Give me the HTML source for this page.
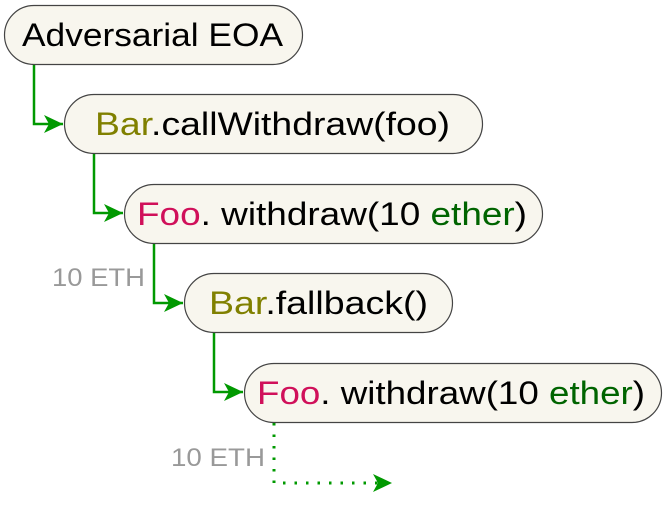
<!DOCTYPE html>
<html><head><style>body{margin:0;background:#fff}svg{display:block}</style></head><body>
<svg width="667" height="513" xmlns="http://www.w3.org/2000/svg" font-family="Liberation Sans, sans-serif">
<defs>
<marker id="a" markerWidth="20" markerHeight="18" refX="19" refY="9" orient="auto" markerUnits="userSpaceOnUse">
<path d="M0,0 L19,9 L0,18 L5,9 Z" fill="#009900"/></marker>
</defs>
<g fill="none" stroke="#009900" stroke-width="2.5">
<path d="M34,64 V124 H63" marker-end="url(#a)"/>
<path d="M94,154 V213 H123" marker-end="url(#a)"/>
<path d="M154,243 V303 H183" marker-end="url(#a)"/>
<path d="M214,333 V392 H243" marker-end="url(#a)"/>
<path d="M274,423 V483 H392" stroke-dasharray="2.5 9" stroke-width="3" marker-end="url(#a)"/>
</g>
<g fill="#f8f6ee" stroke="#444" stroke-width="1.2">
<rect x="4.5" y="5.5" width="298" height="59" rx="29.5"/>
<rect x="64.5" y="94.5" width="418" height="59" rx="29.5"/>
<rect x="124.5" y="184.5" width="418" height="59" rx="29.5"/>
<rect x="184.5" y="273.5" width="268" height="59" rx="29.5"/>
<rect x="244.5" y="363.5" width="417" height="59" rx="29.5"/>
</g>
<g font-size="32" fill="#000" lengthAdjust="spacingAndGlyphs">
<text x="22" y="46" textLength="261" lengthAdjust="spacingAndGlyphs">Adversarial EOA</text>
<text x="95" y="135" textLength="355" lengthAdjust="spacingAndGlyphs"><tspan fill="#808000">Bar</tspan>.callWithdraw(foo)</text>
<text x="137" y="225" textLength="390" lengthAdjust="spacingAndGlyphs"><tspan fill="#d0105a">Foo</tspan>. withdraw(10 <tspan fill="#006400">ether</tspan>)</text>
<text x="209" y="314" textLength="219" lengthAdjust="spacingAndGlyphs"><tspan fill="#808000">Bar</tspan>.fallback()</text>
<text x="257" y="404" textLength="388" lengthAdjust="spacingAndGlyphs"><tspan fill="#d0105a">Foo</tspan>. withdraw(10 <tspan fill="#006400">ether</tspan>)</text>
</g>
<g font-size="25" fill="#999">
<text x="52" y="286" textLength="93" lengthAdjust="spacingAndGlyphs">10 ETH</text>
<text x="171" y="466" textLength="94" lengthAdjust="spacingAndGlyphs">10 ETH</text>
</g>
</svg>
</body></html>
